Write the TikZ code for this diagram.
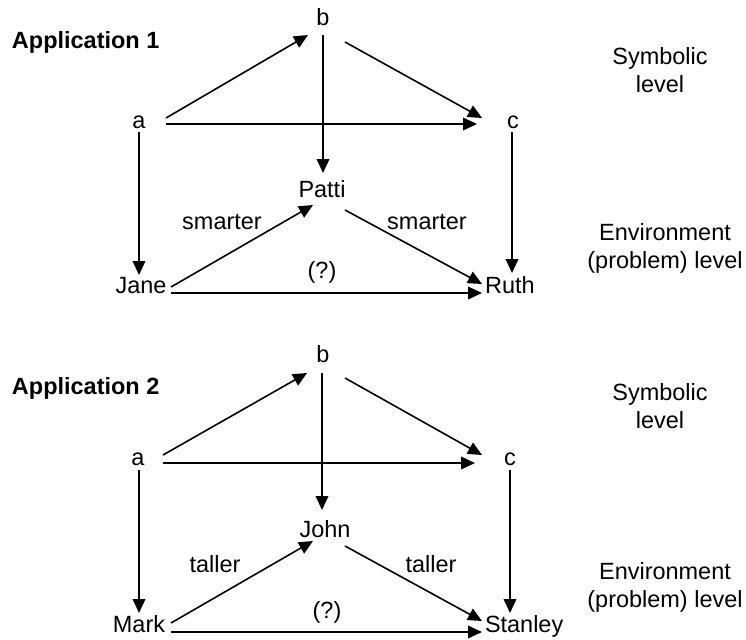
\documentclass[tikz,border=0pt]{standalone}
\usepackage{fontspec}
\setmainfont{Liberation Sans}
\usetikzlibrary{arrows.meta}
\begin{document}
\begin{tikzpicture}[x=0.75pt,y=-0.75pt,
  lbl/.style={inner sep=0pt, outer sep=0pt, anchor=base, font=\fontsize{17.6}{20.8}\selectfont},
  side/.style={lbl, align=center},
  title/.style={inner sep=0pt, outer sep=0pt, anchor=base west, font=\fontsize{17.6}{20.8}\selectfont\bfseries},
  arr/.style={-{Triangle[length=10.5pt,width=9.5pt]}, line width=1.2pt}]
\useasboundingbox (0,0) rectangle (746,639);

% ---------- Application 1 ----------
\node[title] (t1) at (12,48) {Application 1};
\node[side] (s1) at (660,92) {Symbolic\\level};
\node[side] (e1) at (665,268) {Environment\\(problem) level};

\node[lbl] (a1) at (139,128) {a};
\node[lbl] (b1) at (323,25) {b};
\node[lbl] (c1) at (513,128) {c};
\node[lbl] (p1) at (322,197) {Patti};
\node[lbl] (j1) at (141,293) {Jane};
\node[lbl] (r1) at (510,293) {Ruth};
\node[lbl] (l1) at (222,229) {smarter};
\node[lbl] (m1) at (427,229) {smarter};
\node[lbl] (q1) at (322,278) {(?)};

\draw[arr] ([shift={(27,-10)}]a1.base) -- ([shift={(-15,10)}]b1.base);
\draw[arr] ([shift={(22,17)}]b1.base) -- ([shift={(-31,-10)}]c1.base);
\draw[arr] ([shift={(27,-4)}]a1.base) -- ([shift={(-36,-4)}]c1.base);
\draw[arr] ([shift={(0,10)}]b1.base) -- ([shift={(1,-24)}]p1.base);
\draw[arr] ([shift={(0,4)}]a1.base) -- ([shift={(-2,-18)}]j1.base);
\draw[arr] ([shift={(-1,4)}]c1.base) -- ([shift={(2,-20)}]r1.base);
\draw[arr] ([shift={(30,-6)}]j1.base) -- ([shift={(-9,8)}]p1.base);
\draw[arr] ([shift={(23,13)}]p1.base) -- ([shift={(-28,-9)}]r1.base);
\draw[arr] ([shift={(30,0)}]j1.base) -- ([shift={(-28,0)}]r1.base);

% ---------- Application 2 ----------
\node[title] (t2) at (12,394) {Application 2};
\node[side] (s2) at (660,428) {Symbolic\\level};
\node[side] (e2) at (665,607) {Environment\\(problem) level};

\node[lbl] (a2) at (138,465) {a};
\node[lbl] (b2) at (323,362) {b};
\node[lbl] (c2) at (510,465) {c};
\node[lbl] (p2) at (325,537) {John};
\node[lbl] (j2) at (139,632) {Mark};
\node[lbl, anchor=base west] (r2) at (485,632) {Stanley};
\node[lbl] (l2) at (215,572) {taller};
\node[lbl] (m2) at (431,572) {taller};
\node[lbl] (q2) at (327,618) {(?)};

\draw[arr] ([shift={(25,-10)}]a2.base) -- ([shift={(-16,11)}]b2.base);
\draw[arr] ([shift={(22,16)}]b2.base) -- ([shift={(-28,-10)}]c2.base);
\draw[arr] ([shift={(25,-2)}]a2.base) -- ([shift={(-35,-2)}]c2.base);
\draw[arr] ([shift={(-1,11)}]b2.base) -- ([shift={(-3,-27)}]p2.base);
\draw[arr] ([shift={(1,5)}]a2.base) -- ([shift={(0,-19)}]j2.base);
\draw[arr] ([shift={(0,5)}]c2.base) -- ([shift={(25,-19)}]r2.base west);
\draw[arr] ([shift={(32,-9)}]j2.base) -- ([shift={(-12,4)}]p2.base);
\draw[arr] ([shift={(20,9)}]p2.base) -- ([shift={(-3,-11)}]r2.base west);
\draw[arr] ([shift={(32,0)}]j2.base) -- ([shift={(-3,0)}]r2.base west);
\end{tikzpicture}
\end{document}
